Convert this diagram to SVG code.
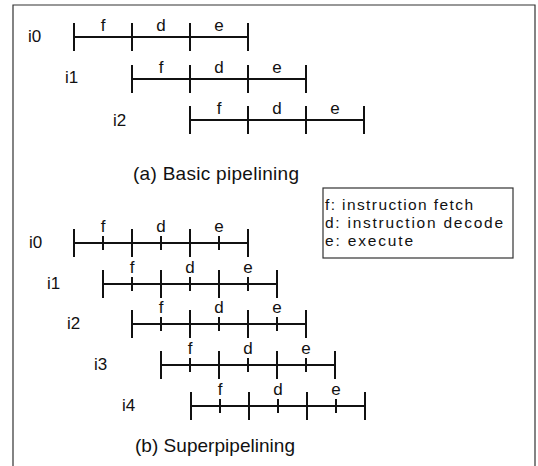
<svg xmlns="http://www.w3.org/2000/svg" width="538" height="466" viewBox="0 0 538 466">
<style>
.ln{stroke:#111;stroke-width:2;fill:none}
.tk{stroke:#111;stroke-width:2}
.t{font-family:"Liberation Sans",Arial,sans-serif;font-size:17px;fill:#111}
.s{text-anchor:middle}
.lg{font-size:15.5px}
.cap{font-size:19px}
.fr{stroke:#333;stroke-width:1.2;fill:none}
</style>
<defs>
<g id="basic">
<path class="ln" d="M0,0H174"/>
<path class="tk" d="M0,-14V14M58,-14V14M116,-14V14M174,-14V14"/>
<text class="t s" x="29" y="-6">f</text>
<text class="t s" x="87" y="-6">d</text>
<text class="t s" x="145" y="-6">e</text>
</g>
<g id="super">
<path class="ln" d="M0,0H174"/>
<path class="tk" d="M0,-14V14M58,-14V14M116,-14V14M174,-14V14"/>
<path class="tk" d="M29,-7V7M87,-7V7M145,-7V7"/>
<text class="t s" x="29" y="-11">f</text>
<text class="t s" x="87" y="-11">d</text>
<text class="t s" x="145" y="-11">e</text>
</g>
</defs>
<path id="frame" class="fr" d="M13,466V5H535V466"/>
<g id="connectors"></g>
<g id="basic-i0"><text class="t" x="28" y="42">i0</text><use href="#basic" x="74" y="37"/></g>
<g id="basic-i1"><text class="t" x="65" y="83">i1</text><use href="#basic" x="132" y="79"/></g>
<g id="basic-i2"><text class="t" x="113" y="126">i2</text><use href="#basic" x="190" y="120"/></g>
<g id="caption-a"><text class="t cap" x="133" y="180" textLength="166">(a) Basic pipelining</text></g>
<g id="legend">
<rect class="fr" x="323" y="188" width="190" height="70" stroke="#222"/>
<text class="t lg" x="325" y="210" textLength="148">f: instruction fetch</text>
<text class="t lg" x="325" y="228" textLength="178">d: instruction decode</text>
<text class="t lg" x="325" y="246" textLength="88">e: execute</text>
</g>
<g id="super-i0"><text class="t" x="29" y="248">i0</text><use href="#super" x="74" y="243"/></g>
<g id="super-i1"><text class="t" x="47" y="289">i1</text><use href="#super" x="103" y="284"/></g>
<g id="super-i2"><text class="t" x="67" y="329">i2</text><use href="#super" x="132" y="324"/></g>
<g id="super-i3"><text class="t" x="94" y="370">i3</text><use href="#super" x="161" y="365"/></g>
<g id="super-i4"><text class="t" x="122" y="411">i4</text><use href="#super" x="191" y="406"/></g>
<g id="caption-b"><text class="t cap" x="135" y="452" textLength="160">(b) Superpipelining</text></g>
</svg>
